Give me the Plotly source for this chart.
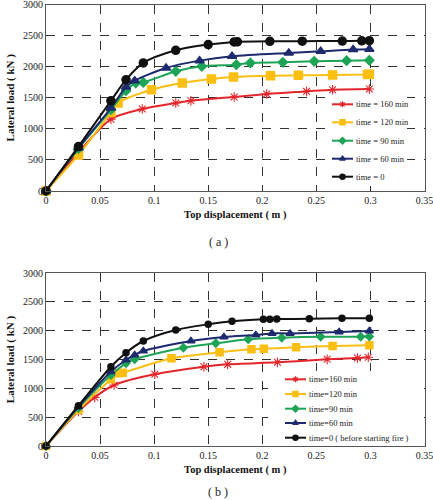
import plotly.graph_objects as go

# ---- data (a) ----
xa_160 = [0, 0.030, 0.060, 0.089, 0.120, 0.134, 0.174, 0.204, 0.241, 0.265, 0.299]
ya_160 = [0, 620, 1156, 1318, 1415, 1452, 1511, 1560, 1602, 1629, 1640]
xa_120 = [0, 0.030, 0.060, 0.0667, 0.0975, 0.126, 0.153, 0.1734, 0.2076, 0.2334, 0.265, 0.2973, 0.299]
ya_120 = [0, 581, 1263, 1415, 1629, 1737, 1802, 1834, 1855, 1860, 1866, 1876, 1878]
xa_90 = [0, 0.030, 0.060, 0.074, 0.083, 0.090, 0.120, 0.144, 0.176, 0.189, 0.219, 0.248, 0.278, 0.299]
ya_90 = [0, 680, 1307, 1613, 1737, 1747, 1925, 2005, 2032, 2060, 2070, 2086, 2097, 2102]
xa_60 = [0, 0.030, 0.060, 0.074, 0.082, 0.111, 0.142, 0.172, 0.2245, 0.254, 0.284, 0.299]
ya_60 = [0, 690, 1334, 1672, 1774, 1979, 2097, 2167, 2221, 2247, 2275, 2280]
xa_0 = [0, 0.030, 0.060, 0.074, 0.090, 0.120, 0.150, 0.174, 0.177, 0.207, 0.237, 0.274, 0.292, 0.299]
ya_0 = [0, 715, 1450, 1790, 2060, 2263, 2355, 2398, 2400, 2408, 2410, 2412, 2415, 2418]

# ---- data (b) ----
xb_160 = [0, 0.030, 0.045, 0.063, 0.1006, 0.146, 0.168, 0.214, 0.260, 0.288, 0.298]
yb_160 = [0, 600, 844, 1058, 1243, 1375, 1416, 1451, 1503, 1526, 1538]
xb_120 = [0, 0.030, 0.060, 0.067, 0.071, 0.116, 0.1605, 0.190, 0.2014, 0.2313, 0.265, 0.299]
yb_120 = [0, 624, 1156, 1260, 1271, 1520, 1625, 1677, 1688, 1711, 1734, 1746]
xb_90 = [0, 0.030, 0.060, 0.074, 0.082, 0.127, 0.157, 0.187, 0.218, 0.254, 0.291, 0.299]
yb_90 = [0, 660, 1231, 1434, 1503, 1705, 1781, 1850, 1878, 1895, 1895, 1898]
xb_60 = [0, 0.030, 0.060, 0.074, 0.082, 0.090, 0.134, 0.1645, 0.194, 0.209, 0.2257, 0.271, 0.299]
yb_60 = [0, 680, 1289, 1491, 1578, 1647, 1821, 1890, 1925, 1953, 1953, 1977, 1994]
xb_0 = [0, 0.030, 0.060, 0.074, 0.090, 0.120, 0.150, 0.172, 0.201, 0.207, 0.2134, 0.2435, 0.2737, 0.299]
yb_0 = [0, 699, 1375, 1618, 1821, 2011, 2110, 2162, 2197, 2200, 2203, 2205, 2215, 2215]

names_a = ["time = 160 min", "time = 120 min", "time = 90 min", "time = 60 min", "time = 0"]
names_b = ["time=160 min", "time=120 min", "time=90 min", "time=60 min", "time=0 ( before starting fire )"]
x_ticks = [0, 0.05, 0.1, 0.15, 0.2, 0.25, 0.3, 0.35]
y_ticks = [0, 500, 1000, 1500, 2000, 2500, 3000]

colors = ["#e3262b", "#fbbf14", "#1ea456", "#1e2a6e", "#111111"]
symbols = ["asterisk-open", "square", "diamond", "triangle-up", "circle"]
sizes_a = [8, 8, 7, 8, 8]
sizes_b = [8, 7, 6, 7, 6]
mline_w = [1.1, 1.5, 1.5, 1.5, 1.5]

FONT = "Liberation Serif, Times New Roman, serif"
W, H = 433, 500

fig = go.Figure()
series_a = [(xa_160, ya_160), (xa_120, ya_120), (xa_90, ya_90), (xa_60, ya_60), (xa_0, ya_0)]
series_b = [(xb_160, yb_160), (xb_120, yb_120), (xb_90, yb_90), (xb_60, yb_60), (xb_0, yb_0)]

def marker(i, size):
    return dict(symbol=symbols[i], size=size, color=colors[i],
                line=dict(color=colors[i], width=mline_w[i]))

for i, (xs, ys) in enumerate(series_a):
    fig.add_trace(go.Scatter(
        x=xs, y=ys, name=names_a[i], mode="lines+markers", showlegend=False,
        line=dict(color=colors[i], width=2, shape="spline", smoothing=0.8),
        marker=marker(i, sizes_a[i]), cliponaxis=False,
        xaxis="x", yaxis="y"))

for i, (xs, ys) in enumerate(series_b):
    fig.add_trace(go.Scatter(
        x=xs, y=ys, name=names_b[i], mode="lines+markers", showlegend=False,
        line=dict(color=colors[i], width=2, shape="spline", smoothing=0.8),
        marker=marker(i, sizes_b[i]), cliponaxis=False,
        xaxis="x2", yaxis="y2"))

# ---- legend boxes drawn on a pixel-space overlay axis (x3/y3) ----
annotations = []

def draw_legend(names, box, x0, x1, tx, rows, msize, fsize):
    bx0, by0, bx1, by1 = box
    fig.add_trace(go.Scatter(
        x=[bx0, bx1, bx1, bx0, bx0], y=[by0, by0, by1, by1, by0],
        mode="lines", fill="toself", fillcolor="white", line=dict(width=0),
        hoverinfo="skip", showlegend=False, xaxis="x3", yaxis="y3"))
    for i, name in enumerate(names):
        yy = rows[i]
        fig.add_trace(go.Scatter(
            x=[x0, x1], y=[yy, yy], mode="lines", line=dict(color=colors[i], width=2),
            hoverinfo="skip", showlegend=False, xaxis="x3", yaxis="y3"))
        fig.add_trace(go.Scatter(
            x=[(x0 + x1) / 2], y=[yy], mode="markers", marker=marker(i, msize),
            hoverinfo="skip", showlegend=False, xaxis="x3", yaxis="y3"))
        annotations.append(dict(
            text=name, x=tx, y=yy, xref="x3", yref="y3", xanchor="left",
            yanchor="middle", showarrow=False,
            font=dict(family=FONT, size=fsize, color="#222")))

draw_legend(names_a, (328, 95, 407, 186), 332, 353, 353.5,
            [104.3, 122.3, 140.7, 158.7, 176.7], 5, 8.5)
draw_legend(names_b, (268, 371, 416, 445), 285, 306, 306.5,
            [379.3, 394, 408.7, 423, 437.7], 5, 8.5)

axis_common = dict(
    showline=True, mirror=True, linecolor="#555555", linewidth=1,
    showgrid=True, gridcolor="#333333", griddash="dash", gridwidth=1,
    zeroline=False, ticks="", automargin=False, ticklabeloverflow="allow",
    tickfont=dict(family=FONT, size=10, color="#222"),
)

xtitle = dict(text="<b>Top displacement ( m )</b>", standoff=5,
              font=dict(family=FONT, size=10.5, color="#111"))
ytitle = dict(text="<b>Lateral load ( kN )</b>", standoff=6,
              font=dict(family=FONT, size=11, color="#111"))

XD = [46 / W, 424.5 / W]
XR = [0, 0.35]

annotations += [
    dict(text="( a )", x=218, y=242, xref="x3", yref="y3",
         showarrow=False, font=dict(family=FONT, size=12, color="#222")),
    dict(text="( b )", x=218, y=492, xref="x3", yref="y3",
         showarrow=False, font=dict(family=FONT, size=12, color="#222")),
]

fig.update_layout(
    width=W, height=H,
    margin=dict(l=0, r=0, t=0, b=0),
    paper_bgcolor="white", plot_bgcolor="rgba(0,0,0,0)",
    font=dict(family=FONT, size=10, color="#222"),
    showlegend=False,
    xaxis=dict(domain=XD, range=XR, tickvals=x_ticks,
               ticktext=[str(v) for v in x_ticks], anchor="y",
               title=xtitle, **axis_common),
    yaxis=dict(domain=[1 - 191 / H, 1 - 4.5 / H], range=[0, 3000], tickvals=y_ticks,
               anchor="x", title=ytitle, **axis_common),
    xaxis2=dict(domain=XD, range=XR, tickvals=x_ticks,
                ticktext=[str(v) for v in x_ticks], anchor="y2",
                title=xtitle, **axis_common),
    yaxis2=dict(domain=[1 - 446 / H, 1 - 273 / H], range=[0, 3000], tickvals=y_ticks,
                anchor="x2", title=ytitle, **axis_common),
    xaxis3=dict(domain=[0, 1], range=[0, W], visible=False, fixedrange=True, anchor="y3"),
    yaxis3=dict(domain=[0, 1], range=[H, 0], visible=False, fixedrange=True, anchor="x3"),
    annotations=annotations,
)

fig.write_html("out.html", config={"displayModeBar": False},
               post_script="document.body.style.margin='0px';document.body.style.overflow='hidden';")
